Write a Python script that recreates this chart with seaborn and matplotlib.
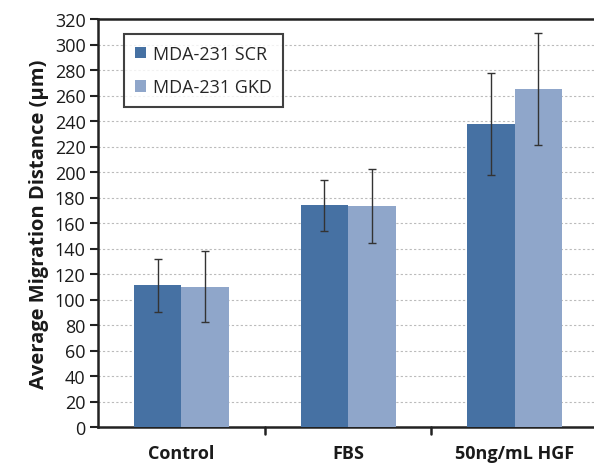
import matplotlib
matplotlib.use("Agg")
import matplotlib.pyplot as plt
import seaborn as sns
import pandas as pd

categories = ["Control", "FBS", "50ng/mL HGF"]
series = ["MDA-231 SCR", "MDA-231 GKD"]
scr_values = [111, 174, 238]
gkd_values = [110, 173, 265]
scr_errors = [21, 20, 40]
gkd_errors = [28, 29, 44]
y_ticks = list(range(0, 321, 20))

colors = ["#4671A3", "#8FA6CA"]

rows = []
for c, v, e in zip(categories, scr_values, scr_errors):
    rows.append({"cat": c, "series": series[0], "val": v, "err": e})
for c, v, e in zip(categories, gkd_values, gkd_errors):
    rows.append({"cat": c, "series": series[1], "val": v, "err": e})
df = pd.DataFrame(rows)

sns.set_theme(style="white")
plt.rcParams['font.family'] = ['Open Sans', 'DejaVu Sans']

fig = plt.figure(figsize=(5.94, 4.64), dpi=100)
ax = fig.add_axes([98/594, 36/464, 500/594, 408/464])

sns.barplot(data=df, x="cat", y="val", hue="series", order=categories,
            hue_order=series, palette=colors, errorbar=None, width=0.57,
            saturation=1, ax=ax, linewidth=0, zorder=3)

bars = [p for p in ax.patches if p.get_height() > 0]
bars_sorted = sorted(bars, key=lambda p: p.get_x())
vals_order = []
errs_order = []
for i in range(len(categories)):
    vals_order += [scr_values[i], gkd_values[i]]
    errs_order += [scr_errors[i], gkd_errors[i]]
xs = [p.get_x() + p.get_width() / 2 for p in bars_sorted]
ax.errorbar(xs, vals_order, yerr=errs_order, fmt="none", ecolor="#333333",
            elinewidth=1.0, capsize=3, capthick=1.0, zorder=4)

ax.set_ylim(0, 320)
ax.set_xlim(-0.5, 2.5)
ax.set_yticks(y_ticks)
ax.set_yticklabels([str(t) for t in y_ticks], fontsize=13, color="#1a1a1a")
ax.yaxis.grid(True, linestyle=(0, (2, 2)), color="#BBBBBB", linewidth=0.8, zorder=0)
ax.set_axisbelow(True)

ax.set_xticks([0, 1, 2])
ax.set_xticklabels(categories, fontsize=13, fontweight="bold", color="#1a1a1a")
ax.tick_params(axis="x", length=0, pad=12)
for xb in [0.5, 1.5]:
    ax.plot([xb, xb], [0, -0.018], transform=ax.get_xaxis_transform(),
            color="#222222", linewidth=1.8, clip_on=False)
ax.tick_params(axis="y", left=True, length=6, width=1.5, color="#222222", pad=3)

ax.set_xlabel("")
ax.set_ylabel("Average Migration Distance (µm)", fontsize=14.5, fontweight="bold",
              color="#1a1a1a", labelpad=4)

for s in ["left", "bottom", "top"]:
    ax.spines[s].set_visible(True)
    ax.spines[s].set_color("#222222")
    ax.spines[s].set_linewidth(1.8)
ax.spines["right"].set_visible(False)

leg = ax.legend(loc="upper left", bbox_to_anchor=(0.052, 0.963), borderaxespad=0,
                fontsize=13, handlelength=0.6, handleheight=0.6, labelspacing=0.85,
                frameon=True, fancybox=False, edgecolor="#111111",
                borderpad=0.6, handletextpad=0.4)
leg.get_frame().set_linewidth(1.5)
leg.set_title(None)

fig.savefig("out.png", dpi=100)
